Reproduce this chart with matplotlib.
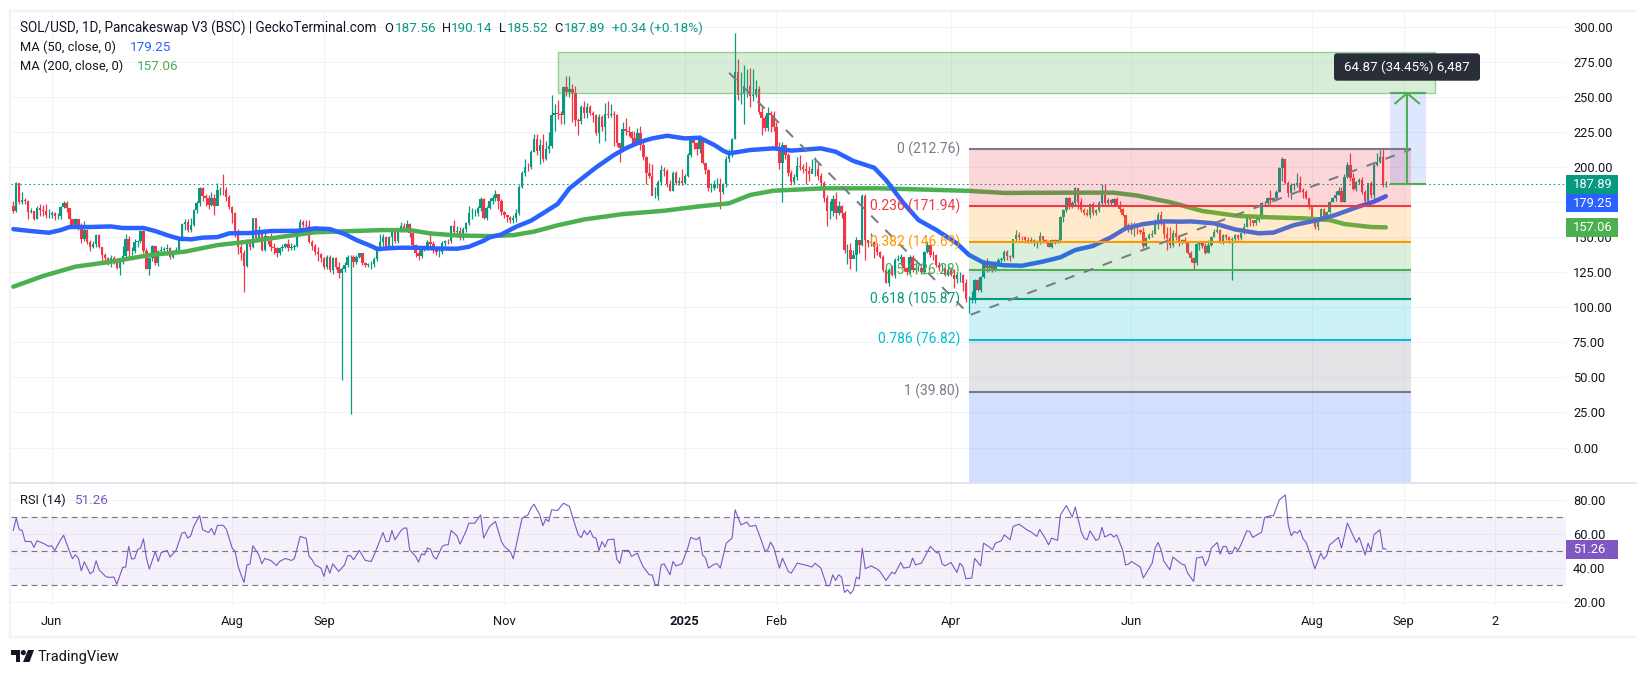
#!/usr/bin/env python3
import numpy as np
import matplotlib
matplotlib.use('Agg')
import matplotlib.pyplot as plt
from matplotlib.patches import Rectangle, FancyBboxPatch, Polygon, Circle
from matplotlib.transforms import blended_transform_factory

plt.rcParams['font.family'] = ['Roboto', 'DejaVu Sans']

##------------------------------ daily candles, SOL/USD ------------------------------##
first_day = np.datetime64('2024-05-19')
first_open = 172
closes = [
    169,188.4,175,176.5,176,168,168.5,163,170.5,169.5,
    168.5,166,166,167,164.8,165,171.3,174.6,170.5,162.7,
    158.5,162.7,158,149,155,146.8,143.2,145,151.5,143.2,
    137.3,135,132.5,135,134,128.3,132.5,136.6,149,140,
    140.3,146.8,147,154.4,140.5,127.3,134.9,143.7,131.8,140,
    141,141.5,142,136,139.6,141,148.5,159.4,161,155,
    159,169.4,174.6,185.3,179.4,177.7,173,178,172,184,
    184,183.5,178.9,171.8,167,154,142.8,138.5,129.7,145.6,
    143,
    163.4,149.2,153,141,150.8,147,143.2,142,138.5,142,
    143,144.9,142,143,143.7,152.7,161,159,158,146.8,
    143.7,139.7,138,135,128.5,135.6,126.6,135,129,124.7,
    127,130,136,136,132.5,136,138.5,131.3,130,131,
    131,134.5,142,146.3,150,142.8,150,153.9,147.5,155.1,
    158,155.6,159.4,152.7,144.4,139,136.6,142,142.8,146.6,
    145.2,141.3,139.4,139.4,145.6,147.5,147,158,154,154.5,
    149.2,155.6,159.9,167,167,167.5,170.5,177,163.5,170.5,
    176,178,180.5,176,168,165.8,164.6,162.2,164,167,
    186,195.6,200.3,200,211,219.8,211.7,216,206,212.7,
    215,237,238.8,238,237,256.9,253.8,256,253,233.6,
    233,243,238.8,243,238.4,237,224.5,235.5,228.8,237.9,
    237.2,238,237,217,213.4,227,226,225.2,220.5,216.5,
    224.5,216,207,195.6,194,179.4,179.5,189.6,198,197,
    188,183,195.6,188.4,190,189,193.6,208.6,219.3,217.4,
    212.7,219.3,202.7,198,184.8,185,187.9,188,182.5,188,
    206,
    211,219.8,268,251.5,252,258,258,251,251.5,255.4,
    239.5,234.8,227.6,238.3,237,228.8,213.4,203.2,215.8,208.7,
    195.6,189.6,192.7,200.8,200,198.4,197.5,195,199,199,
    193.7,188.4,177.7,169,169,177,167.5,172.3,167,140.9,
    141,134.5,137,148,144.5,179.4,148,146,146.9,143.3,
    139.7,136,126.6,117.6,126.6,123,134,134.5,136,127.8,
    125.5,135.6,126.6,127.8,128,125,139.7,144.4,137.3,137,
    130.2,127.8,128,123,126.6,123,120,123,123,117,
    105.6,105.9,106,119.5,112.3,121.9,133,128.3,129.5,126.6,
    130,133.8,134.5,139.7,136.8,135.7,148.7,151.6,150.4,150,
    148,147,148,145.6,147.5,150.9,148,147.3,143.3,148,
    146.1,148,164.2,169.4,178.2,172.3,174.7,184.9,175.4,169.4,
    167,165.9,173.7,167,169.4,174.2,180.1,174.2,176.6,174.2,
    177,173,169.9,165.9,156.4,158.7,155,155.5,155.2,154,
    143.7,149.2,151.6,152.3,161.1,165.9,160,152.3,149.2,144.5,
    153.3,149.9,146.8,148,147.5,139,135,131.4,145.2,145.6,
    143.7,139,144.5,150.4,154,155,146.8,151.6,150,148,
    148.5,151.6,149.2,152.8,157.5,164.7,162.3,160,162.3,164.2,
    174.2,174.7,177.8,176.6,177.8,182.5,199.2,205.8,189,181.3,
    187.3,187.8,189,183.7,182.5,177.8,173,162.3,157.5,163.5,
    170.1,163.5,168.2,175.4,177.8,180.1,183,175.4,193.2,201.5,
    192,184.2,189.6,190.8,182.5,176,188.9,180.1,201.5,203.9,
    207,187.55,187.89,
]
highs = [
    176,189.5,188.5,182,178,176.5,171,169,172,173.4,
    173,174,170,168.5,168,167,172,175.8,176,171,
    163,164,163,160,161.5,156,148,147,152,152,
    143,139,136,137,136.5,135,134,144,152,151,
    143,149,148,155,155,142,136,144.5,144,141,
    144,143,145,143,141,143,150,160,163,163,
    164,170,176,186,186,181,180,182,181,188.5,
    186,195,186,180,172,168,156,145,141,149,
    149,
    164,163,158,155,155,150,153,146,143,143,
    145,146,149,146,145,154,163,162,162,162,
    148,145,143,139,136,137,137,136,136,132,
    129,132,137,137,137,137,139,138,132,131.5,
    133,136,144,152,152,151,151,155,155,156,
    161,160,162,160,153,145,141,144,144,148,
    152,147,143,142,147,148,148.5,159,162,158,
    157,157,161,172,171,170,172,179,178,172,
    178,180,184,181,177,169,166,165,166,170,
    187,197,206,203,212,224,224,220,224,219,
    225,251.5,245,248,240,258,265,265,259,258,
    235,244,247,246,244,240,238,238,237,246,
    247,245,240,238,215,232,235,229,226,226,
    228,229,218,208,203,202,186,191,201.5,200,
    199,191,197,197,193,199,195,210,220,218.5,
    218,223,221,203,199,189,191,192,192,189,
    208,
    213,221,296,277,268,273,270,271,270,262,
    258,243,237,243,240,240,232,218,218,214,
    210,198,195,207,209,202,204,201,206,207,
    203,196,190,180,176,180,182,176,173,169,
    145,146,141,150,148,181,181,148,153,147,
    146,140,137,127,128,130,135,137,138,135,
    129,137,137,131,130,130,140,147,146,140,
    138,132,131,127,131,128,127,125,125,124,
    120,108,112,120,120,122,134,135,131,130,
    133,135,136,141,141,137,149,155,154,151,
    151,150,150,149,148,154,151,149,148,149,
    149,149,165,170,179,179,176,185.5,185,178,
    171,170,174,175,170,176,188,188,178,177,
    178,179,176,171,166,160,161,161,157,156,
    157,150,153,155,163,168,169,161,157,157,
    155,161,150,149,150,147,140,136,146,147,
    147,146,148,151,156,160,156,152,152,151,
    150,152,152,153,160,165,166,162,164,166,
    175,176,179,184,179,184,200,207,206,190,
    189,189,196,194,185,184,178,173,164,164,
    171,171,169,176,179,183,186,186,195,204,
    210,196,190,192,193,184,189,190,203,210,
    212,212.76,190.14,
]
lows = [
    167,168,174,174,174,163,167,162,163,165,
    165,164,164,164,162,163,163,171,168,158,
    157,158,155,146,147,145,140,142,143,142,
    131,132,130,129,131,127,123,131,136,136,
    137,139,143,146,139,127,123,133,130,129.5,
    138,139,137,134.5,135,138,140,147,155,154,
    154,158,167,172,176,172,170,172,166,178,
    180,180,176,170,160,150,138,134,111,129,
    141,
    142,148,148,140,140,145,140,138,136,137,
    140,142,140,141,141,143,152,157,155,146,
    141,137,133,132,127,127,125,124,127,121,
    48,125,129,24,129,131,135,130,129,129,
    127,129,133,140,144,141,142,144,146,146,
    154,154,154,150,142,136,134,135,140,141,
    142,139,137,136,138,144,145,146,151,152,
    148,148,154,159,163,165,165,169,163,162,
    170,174,176,170,166,164,161,160,160,161,
    166,185,194,197,199,211,209,202,204,205,
    210,214,226,234,231,231,251,250,232,229,
    223,231,235,235,237,232,223,217,226,219,
    235,236,215,215,204,212,223,222,217,215,
    216,212,205,188,192,180,178,176.5,187,194,
    186,183,183,187,187,187,188,193,207,213,
    209,210,202,195,183,182,184,185,170,181,
    186,
    204,207,220,248,245,231,250,243,247,250,
    238,223,226,226,225,226,212,199,175,206,
    194,187,188,191,198,196,188,190,198,194,
    191,186,175,158,163,165,163,166,164,139,
    131,127,135,126,139,144,134,143,144,135,
    137,135,125,117,115,122,121,133,130,126,
    123,124,125,124,126,124,124,139,136,134,
    129,126,126,122,122,122,114,117,118,112,
    104,96,103,103,112,111,121,125,126,125,
    126,130,132,133,134,133,135,147,148,148,
    146,146,146,144,142,145,146,146,143,142,
    145,146,147,161,168,170,171,172,170,168,
    166,165,164,166,166,168,172,173,172,172,
    172,172,168,165,155,154,152,151,152,152,
    142,143,149,150,152,156,159,149,141,142,
    143,148,144,145,146,138,132,127,130,141,
    142,138,139,144,150,153,146,145,148,146,
    119.5,147,148,148,152,157,158,158,159,161,
    163,172,172,174,176,176,182,190,188,179,
    177,184,186,182,178,177,170,161,156,155,
    162,162,162,167,175,176,180,175,175,192,
    190,184,183,188,181,175,174,178,176,201,
    203,186,185.52,
]

##------------------------------ moving averages (day number, value) ------------------------------##
ma50_days = [0,6,12,16,19,26,33,37,44,48,53,56,60,64,69,73,80,87,96,102,107,112,116,121,123,130,136,143,150,154,159,161,165,170,175,179,184,188,193,197,203,207,212,216,221,227,232,237,240,242,249,257,263,273,278,284,291,295,301,306,312,319,323,328,335,341,348,354,359,365,371,376,382,389,395,398,406,413,421,426,433,440,447,454,460,464]
ma50_vals = [155.8,154.4,153.2,155.1,157.3,157.3,157.7,156.6,156.6,154.4,150.8,149,148.5,149.7,150.1,152.8,153,154.4,154.6,156.3,155.8,152.3,148,143.7,141.6,142.5,142.5,142,141.8,143.2,147.5,149.9,152,157.5,161.8,167,173.7,184.8,193.2,199.8,208.6,213.4,218.1,220.5,222.4,220.5,221,215.8,211.7,209.8,212.2,213.4,211.8,213.4,211,204.4,199.6,190.8,174.2,162.3,155.2,145.6,137.5,131.9,130,129.7,132.6,135.7,140.9,143.8,149.9,156.3,159.4,161.3,161.1,161.3,159.9,155.6,152.8,153.3,158.7,161.8,165.9,171.3,175.4,179.25]
ma200_days = [0,10,21,33,46,58,69,80,91,102,114,125,134,141,150,161,169,176,184,193,206,220,231,242,249,257,274,293,323,335,357,372,380,391,402,414,425,436,445,450,459,464]
ma200_vals = [114.7,122.3,129,132.5,137.3,139.7,144.4,147,150.4,153.5,154.4,155.1,155.1,152.7,151.3,150.8,151.5,154,158.5,162.7,166.5,168.9,171.8,174.2,180.1,183.2,184.9,184.9,183.1,181.6,181.8,181.8,179.7,175,168.7,165.2,164.2,163.5,162.3,159.4,157.3,157.06]

##------------------------------ RSI (day number, value) ------------------------------##
rsi_days = [0,1,2,3,4,6,7,8,10,12,13,14,16,17,19,20,21,22,23,24,26,27,28,29,31,32,34,35,37,38,39,40,41,42,43,44,45,46,48,49,50,52,53,55,57,58,59,60,61,63,64,66,67,68,69,71,72,74,75,76,77,78,79,80,81,83,84,85,87,89,90,92,94,95,97,99,100,101,102,104,105,106,107,108,110,112,113,114,115,117,119,121,122,124,125,126,127,128,129,131,132,133,134,136,137,138,139,140,141,142,143,145,146,147,148,150,151,153,154,156,158,159,161,163,165,166,168,169,171,172,174,175,176,178,179,180,181,182,184,186,188,189,191,192,193,194,195,196,197,198,199,200,201,203,204,205,206,208,209,211,212,213,215,216,217,218,219,220,222,223,224,226,228,229,231,232,233,234,235,237,238,239,241,243,244,246,248,249,251,253,254,255,256,257,259,260,262,263,265,266,268,270,271,273,275,276,277,278,279,280,281,282,283,284,285,286,287,288,290,292,293,295,297,298,300,301,303,304,305,307,310,312,313,314,315,317,319,320,321,322,324,325,327,328,330,331,332,334,335,337,338,340,343,344,346,347,349,350,351,353,354,356,358,359,361,362,363,364,366,367,368,369,371,372,373,375,376,377,378,381,382,385,386,387,388,389,391,392,395,396,397,399,400,402,403,404,405,407,408,409,410,411,412,413,414,415,417,418,419,422,423,425,426,428,430,431,432,433,434,435,436,437,439,440,442,443,444,445,448,449,451,454,455,457,458,459,460,462,463,464]
rsi_vals = [62.2,69.5,62.6,62.2,55.7,55.7,52.2,56.1,54.7,52.8,53.2,50.4,56.7,59.4,49.8,45.5,47.8,45.9,38.4,43.7,36.6,38,44.3,39,35.4,34.5,34.7,30.5,40.4,40.6,52.8,45.3,45.7,50.8,51.8,57.3,45.9,39.4,49.8,43.9,49.2,50.4,46.5,50.4,60.6,61.2,57.7,59.1,64.6,71.1,62.6,61,63.4,59.6,65.2,65.2,63,51.8,49.8,41,36,31.5,41.9,42.3,53.2,47.8,42.5,45.7,44.5,41.5,43.9,45.7,44.5,45.5,58.7,57.5,46.9,44.9,41.9,40,35.1,41.7,37,42.5,38,41.9,47.2,47.4,44.9,50.4,44.5,43.9,47.8,56.7,61,55.7,55.7,62.2,56.7,62,63.6,63.6,50.8,46.9,43.5,48.4,47.8,51.8,51.2,46.9,45.3,52.8,53.7,53.7,62.2,59,54.1,61.6,66.5,66.5,71.4,57.7,64.6,67.5,55.7,52.8,49.8,45.5,61.6,69.5,71.4,75.4,77.7,71.4,65,68.9,67.5,74.4,74,78.3,76.4,70.5,59.6,58,62.2,59.6,62.2,58.3,57.7,50.4,55.7,52.4,56.7,57.1,45.3,42.7,50.4,50.4,46.9,48.8,44.3,40.6,36,36,30.1,30.1,41.9,42.5,36,43.9,41.3,42.5,51.8,58.1,56.7,58.3,47.8,45.9,40,42.3,42.5,40,54.7,57.7,74.4,65.5,67.1,64.6,65.2,55.7,50.4,50.8,55.3,52.4,40,45.9,38,37,42.9,42.5,41.7,40.6,42.9,40,29.6,29.6,36,32.7,36,34.7,25.6,27.2,24.8,27.2,34.7,33.5,51.8,39.6,41.3,39.4,38,32.7,37.6,36.6,43.3,40,40.6,45.9,41.9,42.9,52.8,49.2,48.8,42.5,41.3,43.3,37.4,42.9,41,33.7,34.1,45.7,41.3,54.7,52.4,50.8,54.7,56.1,59.6,56.7,64.6,65.9,62.2,61.4,58.7,62.8,57.1,53.7,57.7,56.3,71.4,76.9,70.1,76,61.6,57.7,56.7,62,56.3,57.3,64,58.3,60.2,58.3,59.6,50.8,41.9,42.3,43.9,40.6,34.1,42.9,51.8,55.1,50.8,43.9,39,46.5,42.3,41.9,37,32.1,45.9,46.7,41.3,44.9,51.8,55.1,48.2,52.8,52.8,48.4,48.8,52.4,50.4,53.7,62,61.6,58.1,61.2,69.9,70.9,70.9,80.3,83.2,65.5,59,61.6,60.6,62.4,57.3,55.3,45.3,39.6,48.8,45.3,47.4,53.7,58.1,51.8,66.5,55.1,58.1,47.8,54.7,50.2,59.8,62.6,51.4,51.26]

##------------------------------ drawings ------------------------------##
fib_prices = [212.76, 171.94, 146.69, 126.28, 105.87, 76.82, 39.80]
fib_names = ['0 (212.76)', '0.236 (171.94)', '0.382 (146.69)', '0.5 (126.28)', '0.618 (105.87)', '0.786 (76.82)', '1 (39.80)']
fib_colors = ['#787B86', '#F23645', '#FF9800', '#4CAF50', '#089981', '#00BCD4', '#787B86']
fib_fills = ['#F23645', '#FF9800', '#4CAF50', '#089981', '#00BCD4', '#787B86', '#2962FF']
fib_span = [323, 472.5]
trend_days = [242, 323.4, 472.5]
trend_prices = [267.3, 94.5, 212.76]
zone_days = [184, 480.6]
zone_prices = [252.6, 282.3]
measure_days = [465.4, 471.2, 477.5]
measure_prices = [187.89, 252.76]
price_ticks = np.arange(0, 301, 25)
rsi_ticks = [20, 40, 60, 80]
rsi_bands = [30, 50, 70]
tick_dates = ['2024-06-01', '2024-08-01', '2024-09-01', '2024-11-01', '2025-01-01', '2025-02-01',
              '2025-04-01', '2025-06-01', '2025-08-01', '2025-09-01', '2025-10-02']
tick_names = ['Jun', 'Aug', 'Sep', 'Nov', '2025', 'Feb', 'Apr', 'Jun', 'Aug', 'Sep', '2']

TEAL = '#089981'
RED = '#F23645'
BLUE = '#2962FF'
GREEN = '#4CAF50'
PURPLE = '#7E57C2'
INK = '#131722'
GRID = '#F0F3FA'
FS = 9.3

W, H = 1637, 676
fig = plt.figure(figsize=(W/100, H/100), dpi=100, facecolor='white')


def px_axes(l, t, r, b):
    return fig.add_axes([l/W, 1-b/H, (r-l)/W, (b-t)/H])


ax = px_axes(10.5, 10.7, 1566, 482.7)
rs = px_axes(10.5, 482.7, 1566, 605)
xlim = (-0.947, 524.9)

o = np.array([first_open] + closes[:-1], float)
c = np.array(closes, float)
h = np.array(highs, float)
l = np.array(lows, float)
d = np.arange(len(c))
tick_x = [(np.datetime64(t) - first_day).astype(int) for t in tick_dates]

for a in (ax, rs):
    a.set_xlim(*xlim)
    for s in a.spines.values():
        s.set_visible(False)
    a.set_xticks(tick_x)
    a.grid(True, color=GRID, lw=0.8, zorder=0)
    a.set_axisbelow(True)
    a.yaxis.tick_right()
    a.tick_params(axis='both', length=0, labelsize=FS, labelcolor=INK, pad=5)

# price pane
ax.set_ylim(-25.1, 311.6)
ax.set_yticks(price_ticks)
ax.set_yticklabels(['%.2f' % v for v in price_ticks])
ax.tick_params(axis='x', labelbottom=False)

up = c >= o
ax.vlines(d[up], l[up], h[up], color=TEAL, lw=0.9, zorder=2)
ax.vlines(d[~up], l[~up], h[~up], color=RED, lw=0.9, zorder=2)
ax.bar(d[up], (c-o)[up], bottom=o[up], width=0.82, color=TEAL, lw=0, zorder=3)
ax.bar(d[~up], (c-o)[~up], bottom=o[~up], width=0.82, color=RED, lw=0, zorder=3)

ax.plot(ma200_days, ma200_vals, color=GREEN, lw=3.2, zorder=4, solid_capstyle='round')
ax.plot(ma50_days, ma50_vals, color=BLUE, lw=3.2, zorder=4, solid_capstyle='round')
ax.axhline(closes[-1], color=TEAL, lw=0.8, ls=(0, (1.4, 2.6)), zorder=4)

# fib retracement
bounds = fib_prices + [ax.get_ylim()[0]]
for i, col in enumerate(fib_fills):
    ax.fill_between(fib_span, bounds[i], bounds[i+1], color=col, alpha=0.2, lw=0, zorder=5)
for p, name, col in zip(fib_prices, fib_names, fib_colors):
    ax.plot(fib_span, [p, p], color=col, lw=1.5, zorder=6, solid_capstyle='butt')
    ax.text(fib_span[0]-3, p, name, color=col, fontsize=FS+0.7, ha='right', va='center', zorder=7)

ax.plot(trend_days, trend_prices, color='#787B86', lw=1.45, ls=(0, (5, 5)), zorder=6)

# supply zone
ax.add_patch(Rectangle((zone_days[0], zone_prices[0]), zone_days[1]-zone_days[0], zone_prices[1]-zone_prices[0],
                       fc=(0.298, 0.686, 0.314, 0.22), ec=(0.298, 0.686, 0.314, 0.55), lw=1.0, zorder=5))

# price range measure
ax.fill_between([measure_days[0], measure_days[2]], measure_prices[0], measure_prices[1], color=BLUE, alpha=0.15, lw=0, zorder=5)
for p in measure_prices:
    ax.plot([measure_days[0], measure_days[2]], [p, p], color=GREEN, lw=1.5, zorder=6, solid_capstyle='butt')
ax.plot([measure_days[1], measure_days[1]], measure_prices, color=GREEN, lw=1.5, zorder=6)
ax.plot([measure_days[1]-4, measure_days[1], measure_days[1]+4], [measure_prices[1]-7.2, measure_prices[1], measure_prices[1]-7.2],
        color=GREEN, lw=1.5, zorder=6)

# rsi pane
rs.set_ylim(18.2, 90.4)
rs.set_yticks(rsi_ticks)
rs.set_yticklabels(['%.2f' % v for v in rsi_ticks])
rs.axhspan(rsi_bands[0], rsi_bands[2], color=PURPLE, alpha=0.08, lw=0, zorder=1)
for v in rsi_bands:
    rs.axhline(v, color='#787B86', lw=0.85, ls=(0, (5, 3.5)), zorder=2)
rs.plot(rsi_days, rsi_vals, color=PURPLE, lw=0.8, zorder=3)
rs.set_xticklabels(tick_names)
rs.tick_params(axis='x', pad=7.5)
rs.get_xticklabels()[4].set_fontweight('bold')

# value tags on the price scale
tag_vals = ['187.89', '179.25', '157.06']
tag_y = [187.5, 174.4, 157.2]
tag_cols = [TEAL, BLUE, GREEN]
tr = blended_transform_factory(ax.transAxes, ax.transData)
for txt, yy, col in zip(tag_vals, tag_y, tag_cols):
    ax.add_patch(Rectangle((1.0, yy-6.7), 0.0335, 13.4, transform=tr, fc=col, ec='none', clip_on=False, zorder=8))
    ax.text(1.0045, yy, txt, transform=tr, color='white', fontsize=FS, va='center', ha='left', zorder=9)
tr2 = blended_transform_factory(rs.transAxes, rs.transData)
rs.add_patch(Rectangle((1.0, 45.4), 0.0335, 11.2, transform=tr2, fc=PURPLE, ec='none', clip_on=False, zorder=8))
rs.text(1.0045, 51.0, '51.26', transform=tr2, color='white', fontsize=FS, va='center', ha='left', zorder=9)

# page furniture, in pixels
ov = fig.add_axes([0, 0, 1, 1], facecolor='none')
ov.set_xlim(0, W)
ov.set_ylim(H, 0)
ov.axis('off')
ov.plot([10, 10], [10, 637], color=GRID, lw=1.6)
ov.plot([10, W], [10.5, 10.5], color=GRID, lw=1.6)
ov.plot([10, W], [637, 637], color=GRID, lw=1.6)
ov.plot([10, W], [482.7, 482.7], color='#E0E3EB', lw=1.3)

legend_bits = [
    (20, 28.3, 'SOL/USD, 1D, Pancakeswap V3 (BSC) | GeckoTerminal.com', INK, 9.75),
    (384, 28.3, 'O', INK, FS), (395, 28.3, '187.56', TEAL, FS+0.4),
    (442, 28.3, 'H', INK, FS), (451, 28.3, '190.14', TEAL, FS+0.4),
    (499, 28.3, 'L', INK, FS), (507, 28.3, '185.52', TEAL, FS+0.4),
    (554, 28.3, 'C', INK, FS), (564, 28.3, '187.89', TEAL, FS+0.4),
    (612, 28.3, '+0.34 (+0.18%)', TEAL, FS+0.4),
    (20, 47.3, 'MA (50, close, 0)', INK, FS), (130, 47.3, '179.25', BLUE, FS+0.4),
    (20, 66.3, 'MA (200, close, 0)', INK, FS), (137, 66.3, '157.06', GREEN, FS+0.4),
    (20, 500.3, 'RSI (14)', INK, FS), (75, 500.3, '51.26', PURPLE, FS+0.4),
]
for x, y, txt, col, size in legend_bits:
    ov.text(x, y, txt, color=col, fontsize=size, va='center', ha='left')

# measure tooltip
ov.add_patch(FancyBboxPatch((1337, 56.3), 140, 21.4, boxstyle='round,pad=3,rounding_size=3', fc='#2A2E39', ec='none', zorder=10))
ov.text(1407, 67, '64.87 (34.45%) 6,487', color='white', fontsize=FS+0.3, ha='center', va='center', zorder=11)

# TradingView mark
ov.add_patch(Polygon([(11, 650), (20, 650), (20, 662), (15.5, 662), (15.5, 655), (11, 655)], fc=INK, ec='none'))
ov.add_patch(Circle((23.3, 652.6), 2.6, fc=INK, ec='none'))
ov.add_patch(Polygon([(28, 650), (34, 650), (29.5, 662), (23, 662)], fc=INK, ec='none'))
ov.text(38, 656.7, 'TradingView', color=INK, fontsize=10.5, ha='left', va='center')

fig.savefig('out.png', dpi=100, facecolor='white')
